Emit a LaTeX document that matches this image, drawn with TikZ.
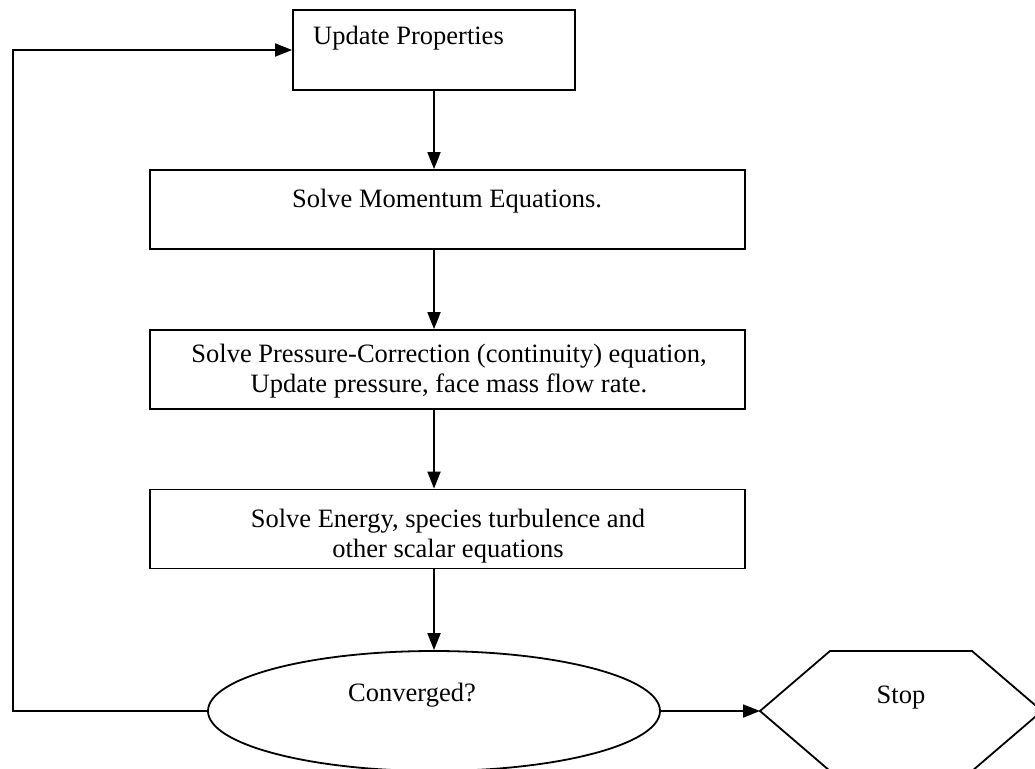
\documentclass[tikz,border=0pt]{standalone}
\usepackage{fontspec}
\setmainfont{Liberation Serif}
\usetikzlibrary{arrows.meta,shapes.geometric}
\begin{document}
\begin{tikzpicture}[x=1pt,y=-1pt,
  flow/.style={line width=1.8pt},
  arr/.style={flow,-{Triangle[length=17pt,width=13pt]}},
  box/.style={draw,line width=1.8pt,rectangle,inner sep=0pt},
  wide/.style={box,minimum width=595pt,minimum height=79pt},
  lbl/.style={font=\fontsize{26.5}{30}\selectfont,inner sep=0pt}]
\useasboundingbox (0,0) rectangle (1035,768);
\clip (0,0) rectangle (1035,768);

% process boxes
\node[box,minimum width=282pt,minimum height=80pt] (upd) at (434,50) {};
\node[wide] (mom) at (447.5,209.5) {};
\node[wide] (pre) at (447.5,369.5) {};
\node[wide] (ene) at (447.5,529) {};

% decision and terminal
\node[draw,ellipse,line width=1.8pt,inner sep=0pt,minimum width=452pt,minimum height=120pt] (conv) at (434,711) {};
\coordinate (stopL) at (760,711);
\draw[line width=1.8pt] (stopL) -- (830,651) -- (972,651) -- (1042,711) -- (972,771) -- (830,771) -- cycle;

% texts
\node[lbl,anchor=base west] (tupd) at (313,45) {Update Properties};
\node[lbl,anchor=base] (tmom) at (447,207) {Solve Momentum Equations.};
\node[lbl,anchor=base] (tpre1) at (449,362) {Solve Pressure-Correction (continuity) equation,};
\node[lbl,anchor=base] (tpre2) at (449,392) {Update pressure, face mass flow rate.};
\node[lbl,anchor=base] (tene1) at (448,527) {Solve Energy, species turbulence and};
\node[lbl,anchor=base] (tene2) at (448,557) {other scalar equations};
\node[lbl,anchor=base] (tconv) at (412,701) {Converged?};
\node[lbl,anchor=base] (tstop) at (901,703) {Stop};

% connectors
\draw[arr] (upd.south) -- (upd.south |- mom.north);
\draw[arr] (upd.south |- mom.south) -- (upd.south |- pre.north);
\draw[arr] (upd.south |- pre.south) -- (upd.south |- ene.north);
\draw[arr] (upd.south |- ene.south) -- (conv.north);
\coordinate (loop) at (13,50);
\draw[arr] (conv.west) -| (loop) -- (upd.west);
\draw[arr] (conv.east) -- (stopL);
\end{tikzpicture}
\end{document}
